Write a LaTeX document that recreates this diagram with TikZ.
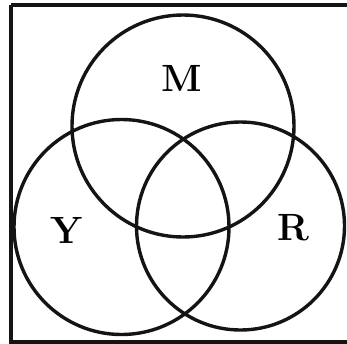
\documentclass[tikz,border=0pt]{standalone}
\begin{document}
\begin{tikzpicture}[x=1pt,y=-1pt,
  setline/.style={line width=3.4pt, draw=black!92},
  setlabel/.style={font=\fontsize{38}{44}\selectfont\bfseries, inner sep=0pt}]
\useasboundingbox (0,0) rectangle (347,343);
\clip (0,0) rectangle (347,343);
\draw[setline] (11,5) -- (360,5);
\draw[setline] (11,5) -- (11,342) -- (360,342);
\node[circle, setline, minimum size=222pt, inner sep=0pt] (M) at (183,126) {};
\node[circle, setline, minimum size=215pt, inner sep=0pt] (Y) at (121.5,227) {};
\node[circle, setline, minimum size=208pt, inner sep=0pt] (R) at (240.5,226) {};
\node[setlabel] (lM) at (182,78) {M};
\node[setlabel] (lY) at (67,230) {Y};
\node[setlabel] (lR) at (293,228) {R};
\end{tikzpicture}
\end{document}
